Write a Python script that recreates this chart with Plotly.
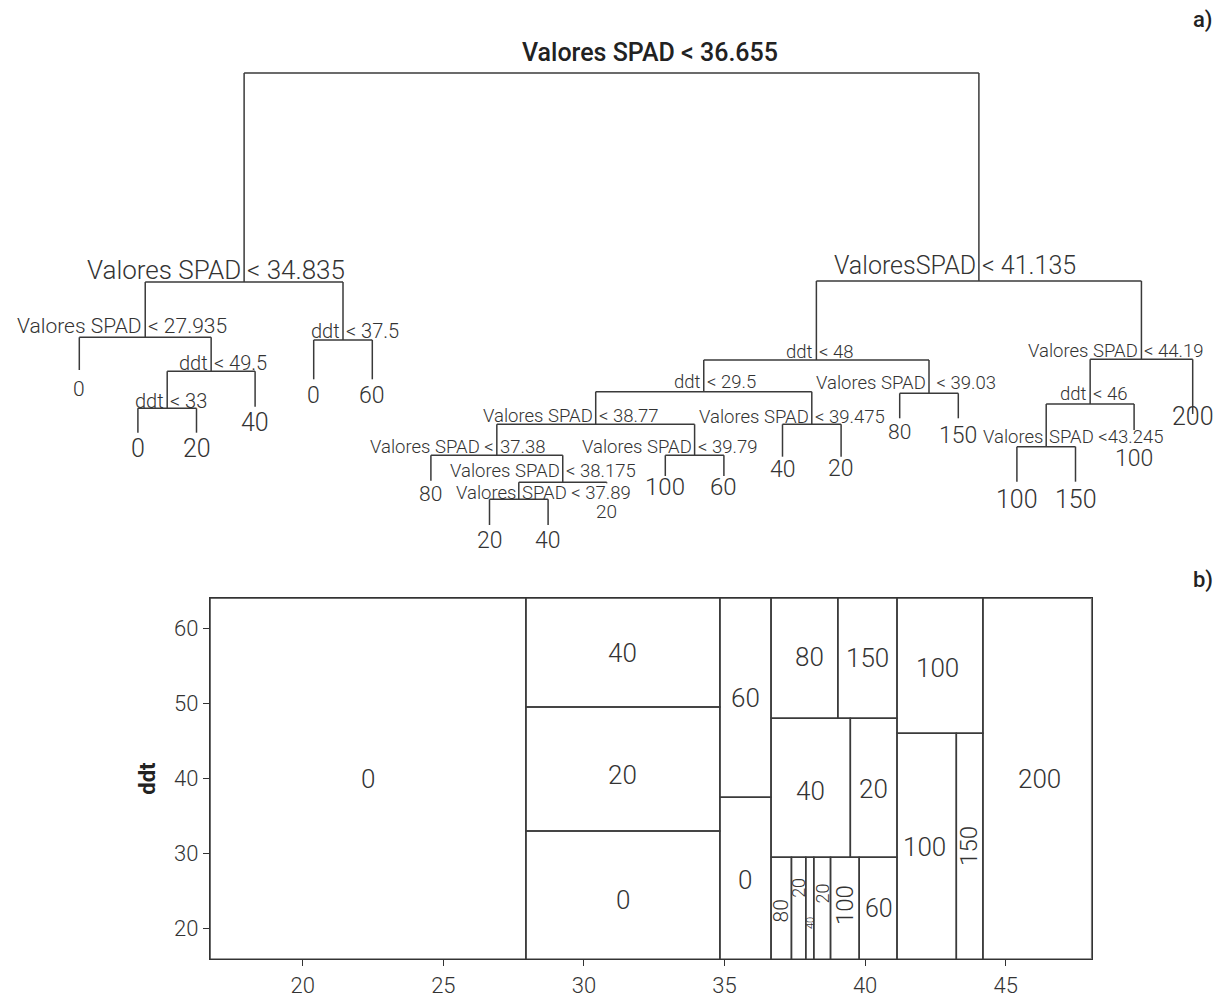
import plotly.graph_objects as go

# ---------------- data: regression tree (R "tree" node numbering: children of n are 2n, 2n+1)
split_nodes = [1, 2, 4, 9, 18, 5, 3, 6, 12, 24, 48, 97, 194, 49, 25, 13, 7, 14, 28]
split_var = ["SPAD", "SPAD", "SPAD", "ddt", "ddt", "ddt", "SPAD", "ddt", "ddt", "SPAD",
             "SPAD", "SPAD", "SPAD", "SPAD", "SPAD", "SPAD", "SPAD", "ddt", "SPAD"]
split_value = [36.655, 34.835, 27.935, 49.5, 33, 37.5, 41.135, 48, 29.5, 38.77,
               37.38, 38.175, 37.89, 39.79, 39.475, 39.03, 44.19, 46, 43.245]
# node heights of the dendrogram (proportional branch lengths)
split_height = [452, 243, 187.7, 153.7, 116.7, 185, 244, 165, 133.3, 100.7,
                69.7, 42.7, 25.7, 69.7, 100.7, 131.7, 165.7, 121, 78.3]
split_text_left = ["Valores SPAD", "Valores SPAD", "Valores SPAD", "ddt", "ddt", "ddt",
                   "ValoresSPAD", "ddt", "ddt", "Valores SPAD", "Valores SPAD <",
                   "Valores SPAD", "Valores", "Valores SPAD", "Valores SPAD",
                   "Valores SPAD", "Valores SPAD", "ddt", "Valores"]
split_text_right = ["< 36.655", "< 34.835", "< 27.935", "< 49.5", "< 33", "< 37.5",
                    "< 41.135", "< 48", "< 29.5", "< 38.77", "37.38", "< 38.175",
                    "SPAD < 37.89", "< 39.79", "< 39.475", "\u00a0< 39.03", "< 44.19",
                    "< 46", "SPAD <43.245"]

leaf_nodes = [8, 36, 37, 19, 10, 11, 96, 388, 389, 195, 98, 99, 50, 51, 26, 27, 56, 57, 29, 15]
leaf_value = [0, 0, 20, 40, 0, 60, 80, 20, 40, 20, 100, 60, 40, 20, 80, 150, 100, 150, 100, 200]
leaf_height = [155, 92.3, 92.3, 118.3, 145.7, 145.7, 44.3, 0, 0, 41.7, 49, 49,
               68.3, 68.3, 106.7, 106.7, 43.3, 43.3, 95, 111]

# partition plot limits (Valores SPAD on x, ddt on y)
spad_limits = [16.70, 48.06]
ddt_limits = [15.91, 64.02]
spad_ticks = [20, 25, 30, 35, 40, 45]
ddt_ticks = [20, 30, 40, 50, 60]

# ---------------- styling (kept apart from the data)
FONT = "Roboto"
INK = "#333333"
LINE = "#3a3a3a"
split_size = [25, 26, 21, 20, 20, 20, 25, 18.5, 18.5, 18.5, 18.5, 18.5, 18.5, 18.5, 18.5,
              18.5, 18.5, 18.5, 18.5]
split_lift = [20.5, 12.5, 11.5, 8.3, 7.3, 9.3, 15.2, 8.3, 10, 8.8, 8.3, 11.8, 6.3, 8.3,
              7.6, 10.3, 8.5, 9.8, 10]
leaf_size = [21, 25, 25, 25, 23, 23, 21, 23, 23, 19, 24, 24, 23, 23, 21, 23, 25, 25, 23, 25]
leaf_drop = [19, 16, 16, 16, 16, 16, 13.5, 15, 15, 28, 11, 11, 13, 11.5, 14, 16.7,
             17.5, 17.5, 28, 2]
region_size = [26, 26, 26, 26, 26, 26, 21, 18, 11, 18, 24, 25, 26, 26, 26, 26, 26, 24, 26, 26]
region_angle = [0, 0, 0, 0, 0, 0, -90, -90, -90, -90, -90, 0, 0, 0, 0, 0, 0, -90, 0, 0]
region_dx = [0, 0, 0, 0, 0, 0, 0, 0, 0, 0, 0, 1, 0, 0, 5, 0, -2, 0, -2, 2]
region_dy = [0, -5, -6, 0, -2, 0, -3, 20, -15, 15, 3, 0, -3, -1, 1, 0, -1, 0, -2, 0]

# ---------------- derive tree geometry
info = {}
for i, n in enumerate(split_nodes):
    info[n] = dict(kind="split", var=split_var[i], thr=split_value[i], h=split_height[i], i=i)
for i, n in enumerate(leaf_nodes):
    info[n] = dict(kind="leaf", val=leaf_value[i], h=leaf_height[i], i=i)
leaf_rank = {n: i + 1 for i, n in enumerate(leaf_nodes)}


def xpos(n):
    if info[n]["kind"] == "leaf":
        return leaf_rank[n]
    return (xpos(2 * n) + xpos(2 * n + 1)) / 2


tx, ty = [], []
for n in split_nodes:
    hx = info[n]["h"]
    l, r = 2 * n, 2 * n + 1
    tx += [xpos(l), xpos(r), None]
    ty += [hx, hx, None]
    for c in (l, r):
        tx += [xpos(c), xpos(c), None]
        ty += [hx, info[c]["h"], None]

# partition regions
regions = []


def walk(n, b):
    d = info[n]
    if d["kind"] == "leaf":
        regions.append((n, b))
        return
    x0, x1, y0, y1 = b
    if d["var"] == "SPAD":
        walk(2 * n, (x0, d["thr"], y0, y1))
        walk(2 * n + 1, (d["thr"], x1, y0, y1))
    else:
        walk(2 * n, (x0, x1, y0, d["thr"]))
        walk(2 * n + 1, (x0, x1, d["thr"], y1))


walk(1, (spad_limits[0], spad_limits[1], ddt_limits[0], ddt_limits[1]))

px_, py_ = [], []
for n, (x0, x1, y0, y1) in regions:
    px_ += [x0, x1, x1, x0, x0, None]
    py_ += [y0, y0, y1, y1, y0, None]

fig = go.Figure()
fig.add_trace(go.Scatter(x=tx, y=ty, mode="lines", xaxis="x", yaxis="y",
                         line=dict(color=LINE, width=1.5), hoverinfo="skip", showlegend=False))
fig.add_trace(go.Scatter(x=px_, y=py_, mode="lines", xaxis="x2", yaxis="y2",
                         line=dict(color=LINE, width=1.5), hoverinfo="skip", showlegend=False))

ann = []
# split labels
for i, n in enumerate(split_nodes):
    x = xpos(n)
    h = split_height[i]
    if n == 1:
        ann.append(dict(x=x, y=h, xref="x", yref="y", text=split_text_left[i] + " " + split_text_right[i],
                        showarrow=False, xanchor="center", yanchor="middle", xshift=38,
                        yshift=split_lift[i],
                        font=dict(family=FONT, size=split_size[i], color="#222", weight=500)))
        continue
    f = dict(family=FONT, size=split_size[i], color=INK, weight=300)
    ann.append(dict(x=x, y=h, xref="x", yref="y", text=split_text_left[i], showarrow=False,
                    xanchor="right", yanchor="middle", xshift=-2, yshift=split_lift[i], font=f,
                    borderpad=0))
    ann.append(dict(x=x, y=h, xref="x", yref="y", text=split_text_right[i], showarrow=False,
                    xanchor="left", yanchor="middle", xshift=2, yshift=split_lift[i], font=f,
                    borderpad=0))
# leaf labels
for i, n in enumerate(leaf_nodes):
    ann.append(dict(x=xpos(n), y=leaf_height[i], xref="x", yref="y", text=str(leaf_value[i]),
                    showarrow=False, xanchor="center", yanchor="middle", yshift=-leaf_drop[i],
                    font=dict(family=FONT, size=leaf_size[i], color=INK, weight=300)))
# region labels
for k, (n, (x0, x1, y0, y1)) in enumerate(regions):
    ann.append(dict(x=(x0 + x1) / 2, y=(y0 + y1) / 2, xref="x2", yref="y2",
                    text=str(info[n]["val"]), showarrow=False, textangle=region_angle[k],
                    xanchor="center", yanchor="middle", xshift=region_dx[k], yshift=region_dy[k],
                    font=dict(family=FONT, size=region_size[k], color=INK, weight=300)))
# panel letters
ann.append(dict(x=1203 / 1225, y=1 - 20 / 998, xref="paper", yref="paper", text="a)",
                xanchor="center", yanchor="middle", showarrow=False,
                font=dict(family=FONT, size=22, color="#222", weight=500)))
ann.append(dict(x=1203 / 1225, y=1 - 580 / 998, xref="paper", yref="paper", text="b)",
                xanchor="center", yanchor="middle", showarrow=False,
                font=dict(family=FONT, size=22, color="#222", weight=500)))

axis_common = dict(showgrid=False, zeroline=False, fixedrange=True)
fig.update_layout(
    width=1225, height=998,
    margin=dict(l=0, r=0, t=0, b=0),
    paper_bgcolor="white", plot_bgcolor="rgba(0,0,0,0)",
    annotations=ann,
    xaxis=dict(domain=[0, 1], range=[1 - 79.3 / 58.6, 1 + (1225 - 79.3) / 58.6],
               visible=False, **axis_common),
    yaxis=dict(domain=[0, 1], range=[-473, 525], visible=False, **axis_common),
    xaxis2=dict(domain=[210 / 1225, 1091.7 / 1225], range=spad_limits, anchor="y2",
                tickvals=spad_ticks, ticks="outside", ticklen=6, tickwidth=1.3, tickcolor=INK,
                showline=True, mirror=True, linecolor=INK, linewidth=1.3,
                tickfont=dict(family=FONT, size=22, color=INK, weight=300), **axis_common),
    yaxis2=dict(domain=[1 - 959.3 / 998, 1 - 598 / 998], range=ddt_limits, anchor="x2",
                tickvals=ddt_ticks, ticks="outside", ticklen=6, tickwidth=1.3, tickcolor=INK,
                showline=True, mirror=True, linecolor=INK, linewidth=1.3,
                tickfont=dict(family=FONT, size=22, color=INK, weight=300),
                title=dict(text="ddt", standoff=12,
                           font=dict(family=FONT, size=22, color="#222", weight=700)),
                **axis_common),
)

fig.write_html("out.html", config={"displayModeBar": False},
               post_script="document.body.style.margin='0px';")
